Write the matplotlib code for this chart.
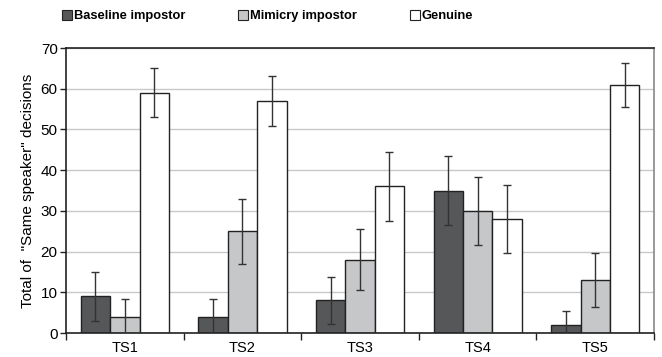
import matplotlib.pyplot as plt
import numpy as np

plt.rcParams['font.family'] = ['Liberation Sans', 'DejaVu Sans']

# Data
sets = ['TS1', 'TS2', 'TS3', 'TS4', 'TS5']
baseline = [9, 4, 8, 35, 2]
baseline_err = [6, 4.4, 5.7, 8.4, 3.4]
mimicry = [4, 25, 18, 30, 13]
mimicry_err = [4.4, 8, 7.5, 8.3, 6.7]
genuine = [59, 57, 36, 28, 61]
genuine_err = [6, 6.2, 8.4, 8.3, 5.4]

fig = plt.figure(figsize=(6.62, 3.57), dpi=100)
ax = fig.add_axes([0.0997, 0.0672, 0.8883, 0.7983])

x = np.arange(len(sets))
w = 0.25
series = [
    (baseline, baseline_err, '#555759', 'Baseline impostor'),
    (mimicry, mimicry_err, '#c6c7c9', 'Mimicry impostor'),
    (genuine, genuine_err, 'white', 'Genuine'),
]
handles = []
for i, (vals, errs, col, lab) in enumerate(series):
    pos = x + (i - 1) * w
    ax.bar(pos, vals, w, color=col, edgecolor='#222222', linewidth=1.0, zorder=2)
    ax.errorbar(pos, vals, yerr=errs, fmt='none', ecolor='#333333',
                elinewidth=1.0, capsize=3, capthick=1.0, zorder=3)
    handles.append(plt.Line2D([], [], marker='s', linestyle='none', markersize=7,
                              markerfacecolor=col, markeredgecolor='#222222',
                              markeredgewidth=0.8, label=lab))

ax.set_xlim(-0.5, len(sets) - 0.5)
ax.set_ylim(0, 70)
ax.set_yticks(range(0, 71, 10))
ax.yaxis.grid(True, color='#c8c8c8', linewidth=1.0, zorder=0)
ax.set_axisbelow(True)

ax.set_xticks(x)
ax.set_xticklabels(sets, fontsize=10.5)
ax.set_xticks(np.arange(-0.5, len(sets), 1.0), minor=True)
ax.tick_params(axis='x', which='major', length=0, pad=6)
ax.tick_params(axis='x', which='minor', length=5, width=1, color='#222222', direction='out')
ax.tick_params(axis='y', length=4, width=1, color='#222222', labelsize=11, pad=2)

ax.set_ylabel('Total of  "Same speaker" decisions', fontsize=11, labelpad=4)

for s in ['left', 'bottom', 'top']:
    ax.spines[s].set_color('#222222')
    ax.spines[s].set_linewidth(1.2)
ax.spines['right'].set_color('#888888')
ax.spines['right'].set_linewidth(1.2)

fig.legend(handles=handles, loc='center', bbox_to_anchor=(0.404, 0.955), ncol=3,
           frameon=False, prop={'weight': 'bold', 'size': 9.3},
           handletextpad=0.1, columnspacing=4.0, handlelength=0.9)

fig.savefig('out.png', dpi=100)
